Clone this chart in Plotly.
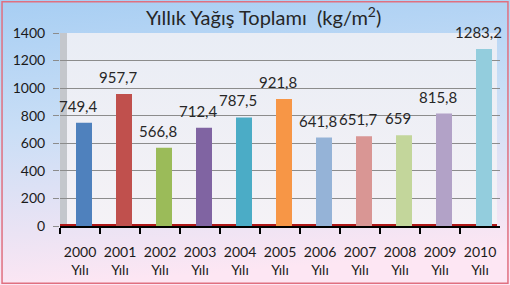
import base64
import plotly.graph_objects as go

years = ["2000", "2001", "2002", "2003", "2004", "2005", "2006", "2007", "2008", "2009", "2010"]
values = [749.4, 957.7, 566.8, 712.4, 787.5, 921.8, 641.8, 651.7, 659, 815.8, 1283.2]
value_labels = ["749,4", "957,7", "566,8", "712,4", "787,5", "921,8", "641,8", "651,7", "659", "815,8", "1283,2"]
colors = ["#4f81bd", "#c0504d", "#9bbb59", "#8064a2", "#4bacc6", "#f79646",
          "#95b3d7", "#d99694", "#c3d69b", "#b2a2c7", "#93cddd"]
cats = [f"{y}<br>Yılı" for y in years]
y_ticks = [0, 200, 400, 600, 800, 1000, 1200, 1400]

W, H = 510, 285
px_l, px_r, px_t, px_b = 60, 500, 33, 226

svg = f'''<svg xmlns="http://www.w3.org/2000/svg" width="{W}" height="{H}" preserveAspectRatio="none">
<defs><linearGradient id="g" x1="0" y1="0" x2="0.15" y2="1">
<stop offset="0" stop-color="#a7cef3"/><stop offset="0.45" stop-color="#c9def6"/>
<stop offset="1" stop-color="#fde6f3"/></linearGradient>
<linearGradient id="w" x1="0" y1="0" x2="0" y2="1">
<stop offset="0" stop-color="#e9edf5"/><stop offset="1" stop-color="#f5f2f6"/></linearGradient></defs>
<rect width="{W}" height="{H}" fill="url(#g)"/>
<rect x="{px_l+7}" y="{px_t}" width="{px_r-px_l-10}" height="{px_b-px_t}" fill="url(#w)"/>
</svg>'''
src = "data:image/svg+xml;base64," + base64.b64encode(svg.encode()).decode()

fig = go.Figure()
fig.add_trace(go.Bar(
    x=cats, y=values, marker=dict(color=colors, line=dict(width=0)),
    width=0.4, offset=-0.1, hoverinfo="skip",
))

for c, v, t in zip(cats, values, value_labels):
    fig.add_annotation(x=c, y=v, text=t, showarrow=False, yanchor="bottom",
                       yshift=6, xshift=-2, font=dict(size=15, color="#262626"))

fig.update_layout(
    width=W, height=H,
    margin=dict(l=0, r=0, t=0, b=0),
    paper_bgcolor="#f0e6f3",
    plot_bgcolor="rgba(0,0,0,0)",
    font=dict(family="Lato, Open Sans, sans-serif", color="#262626"),
    showlegend=False,
    bargap=0.6,
    title=dict(text="Yıllık Yağış Toplamı  (kg/m<sup>2</sup>)", x=0.517, xanchor="center",
               y=1 - 18 / H, yanchor="middle", font=dict(size=20, color="#262626")),
    images=[dict(source=src, xref="paper", yref="paper", x=0, y=1, sizex=1, sizey=1,
                 sizing="stretch", layer="below", xanchor="left", yanchor="top")],
    xaxis=dict(domain=[px_l / W, px_r / W], showgrid=False, tickson="boundaries",
               ticks="outside", ticklen=6, tickwidth=2, tickcolor="#000",
               showline=True, linecolor="#000", linewidth=2, tickangle=0, automargin=False,
               ticklabelstandoff=12,
               tickfont=dict(size=14, color="#1a1a1a"), range=[-0.5, 10.5]),
    yaxis=dict(domain=[1 - px_b / H, 1 - px_t / H], range=[0, 1400], tickvals=y_ticks,
               showgrid=True, gridcolor="#8c8c8c", gridwidth=1, automargin=False,
               ticks="outside", ticklen=6, tickcolor="#8c8c8c",
               showline=False, zeroline=False, ticklabelstandoff=5,
               tickfont=dict(size=14, color="#1a1a1a")),
    shapes=[
        dict(type="rect", xref="paper", yref="paper", x0=px_l / W, x1=(px_l + 7) / W,
             y0=1 - (px_b + 2) / H, y1=1 - px_t / H, fillcolor="#c4c7cc", line=dict(width=0),
             layer="below"),
        dict(type="line", xref="paper", yref="y", x0=px_l / W, x1=(px_r - 3) / W, y0=0, y1=0,
             line=dict(color="#b01818", width=4), layer="below"),
        dict(type="rect", xref="paper", yref="paper", x0=0.004, x1=0.996, y0=0.006, y1=0.994,
             line=dict(color="#e07080", width=1.5), fillcolor="rgba(0,0,0,0)"),
    ],
)

fig.write_html("out.html")
